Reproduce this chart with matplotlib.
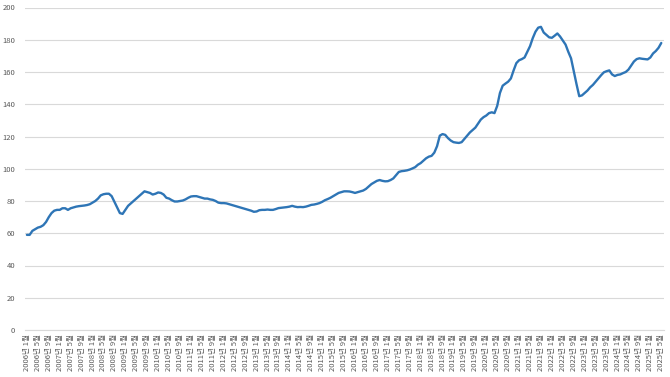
import matplotlib
matplotlib.use("Agg")
from matplotlib import pyplot as plt

# monthly index, 2006-01 .. 2025-05
values = [
    59.0, 59.0, 61.5, 62.5, 63.5, 64.0, 65.0, 67.0, 70.0, 72.5, 74.0, 74.5,        # 2006
    74.5, 75.5, 75.5, 74.5, 75.5, 76.0, 76.5, 76.8, 77.0, 77.2, 77.5, 78.0,        # 2007
    79.0, 80.0, 81.5, 83.5, 84.2, 84.5, 84.5, 83.0, 79.5, 76.0, 72.5, 72.0,        # 2008
    74.5, 77.0, 78.5, 80.0, 81.5, 83.0, 84.5, 86.0, 85.5, 85.0, 84.0, 84.5,        # 2009
    85.3, 85.0, 84.0, 82.0, 81.5, 80.5, 79.7, 79.7, 80.0, 80.3, 81.0, 82.0,        # 2010
    82.8, 83.0, 83.0, 82.5, 82.0, 81.5, 81.5, 81.0, 80.7, 80.0, 79.0, 78.7,        # 2011
    78.7, 78.5, 78.0, 77.5, 77.0, 76.5, 76.0, 75.5, 75.0, 74.5, 74.0, 73.3,        # 2012
    73.5, 74.3, 74.5, 74.5, 74.7, 74.5, 74.5, 75.0, 75.6, 75.8, 76.0, 76.2,        # 2013
    76.5, 77.0, 76.5, 76.2, 76.3, 76.2, 76.5, 77.0, 77.6, 77.8, 78.2, 78.7,        # 2014
    79.5, 80.5, 81.2, 82.0, 83.0, 84.0, 85.0, 85.5, 86.0, 86.0, 85.9, 85.5,        # 2015
    85.0, 85.5, 86.0, 86.5, 87.5, 89.0, 90.5, 91.5, 92.5, 93.0, 92.5, 92.2,        # 2016
    92.3, 93.0, 94.0, 96.0, 98.0, 98.5, 98.7, 99.0, 99.5, 100.2, 101.0, 102.5,     # 2017
    103.5, 105.0, 106.5, 107.5, 108.0, 110.0, 114.0, 120.5, 121.5, 121.0, 119.0, 117.5,  # 2018
    116.5, 116.2, 116.0, 116.5, 118.5, 120.5, 122.5, 124.0, 125.5, 128.0, 130.5, 132.0,  # 2019
    133.0, 134.5, 135.0, 134.5, 139.0, 147.0, 151.5, 152.8, 154.0, 156.0, 161.0, 165.5,  # 2020
    167.3, 168.0, 169.0, 172.5, 176.0, 181.0, 185.0, 187.5, 188.0, 184.5, 183.0, 181.5,  # 2021
    181.2, 182.5, 183.9, 182.0, 179.5, 177.0, 172.5, 168.5, 160.5, 152.5, 145.0, 145.5,  # 2022
    147.0, 148.5, 150.5, 152.0, 154.0, 156.0, 158.0, 159.8, 160.5, 161.0, 158.5, 157.5,  # 2023
    158.2, 158.5, 159.3, 160.0, 161.5, 164.0, 166.5, 168.0, 168.5, 168.2, 168.0, 167.8,  # 2024
    169.0, 171.5, 173.0, 175.0, 178.0,                                                  # 2025
]
start_year = 2006
label_months = [1, 5, 9]
y_ticks = list(range(0, 201, 20))

months = ["{}년 {}월".format(start_year + i // 12, i % 12 + 1) for i in range(len(values))]
tick_pos = [i for i in range(len(values)) if (i % 12 + 1) in label_months]
tick_lab = [months[i] for i in tick_pos]

plt.rcParams['font.family'] = ['Noto Sans CJK KR', 'DejaVu Sans']

fig = plt.figure(figsize=(6.7, 3.77), dpi=100)
ax = fig.add_axes([25 / 670, 47 / 377, 639 / 670, 322.5 / 377])

ax.plot(range(len(values)), values, color='#2e75b6', linewidth=1.7,
        solid_capstyle='round', solid_joinstyle='round')

ax.set_xlim(-0.7, len(values))
ax.set_ylim(0, 200)
ax.set_yticks(y_ticks)
ax.set_xticks(tick_pos)
ax.set_xticklabels(tick_lab, rotation=90)
ax.grid(axis='y', color='#d9d9d9', linewidth=0.8)
ax.set_axisbelow(True)

for side in ['right', 'top', 'left']:
    ax.spines[side].set_visible(False)
ax.spines['bottom'].set_color('#d9d9d9')
ax.spines['bottom'].set_linewidth(0.8)
ax.tick_params(axis='both', length=0, labelsize=5.5, labelcolor='#595959')
ax.tick_params(axis='y', pad=7)
ax.tick_params(axis='x', pad=3)

plt.savefig('out.png', dpi=100)
